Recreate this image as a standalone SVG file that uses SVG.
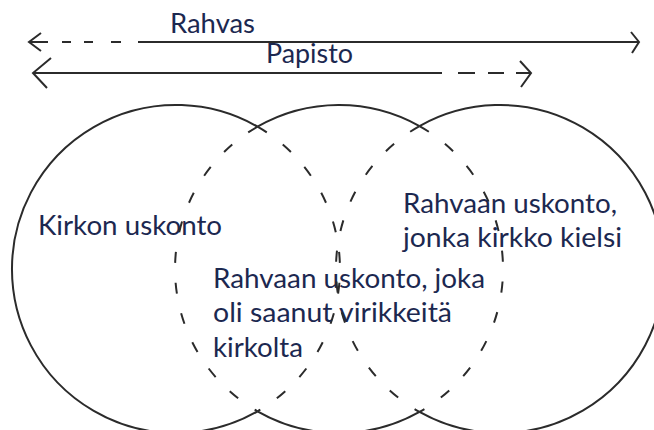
<svg xmlns="http://www.w3.org/2000/svg" width="654" height="430" viewBox="0 0 654 430">
<style>
.s{fill:none;stroke:#2b2b2b;stroke-width:2}
.d{fill:none;stroke:#2b2b2b;stroke-width:2;stroke-dasharray:11 20}
.t{font-family:Lato,"Open Sans",sans-serif;font-size:26px;fill:#1c2850}
</style>
<rect width="654" height="430" fill="#ffffff"/>
<g id="connectors">
<g id="rahvas-arrow">
<path class="s" d="M29 42H48M62 42H71M84 42H93M111 42H121M138 42H639"/>
<path class="s" d="M41 33L29 42L41 51"/>
<path class="s" d="M631 32L639 42L632 53"/>
</g>
<g id="papisto-arrow">
<path class="s" d="M33 73H442M458 73H475M488 73H504M516 73H531"/>
<path class="s" d="M51 58L33 73L47 88"/>
<path class="s" d="M520 61L531 73L521 87"/>
</g>
</g>
<g id="node-kirkko">
<path class="s" d="M257.5 126.7A164 164 0 1 0 257.5 411.3"/>
<path class="d" d="M257.5 126.7A164 164 0 0 1 257.5 411.3"/>
<text class="t" x="38" y="235" textLength="184" lengthAdjust="spacingAndGlyphs">Kirkon uskonto</text>
</g>
<g id="node-middle">
<path class="s" d="M257.5 126.7A164 164 0 0 1 419.5 126.1"/>
<path class="s" d="M257.5 411.3A164 164 0 0 0 419.5 411.9"/>
<path class="d" d="M257.5 126.7A164 164 0 0 0 257.5 411.3"/>
<path class="d" d="M419.5 126.1A164 164 0 0 1 419.5 411.9"/>
<text class="t" x="213" y="288" textLength="272" lengthAdjust="spacingAndGlyphs">Rahvaan uskonto, joka</text>
<text class="t" x="213" y="322" textLength="239" lengthAdjust="spacingAndGlyphs">oli saanut virikkeitä</text>
<text class="t" x="213" y="357" textLength="90" lengthAdjust="spacingAndGlyphs">kirkolta</text>
</g>
<g id="node-right">
<path class="s" d="M419.5 126.1A164 164 0 1 1 419.5 411.9"/>
<path class="d" d="M419.5 126.1A164 164 0 0 0 419.5 411.9"/>
<text class="t" x="403" y="213" textLength="214" lengthAdjust="spacingAndGlyphs">Rahvaan uskonto,</text>
<text class="t" x="403" y="247" textLength="219" lengthAdjust="spacingAndGlyphs">jonka kirkko kielsi</text>
</g>
<g id="labels">
<text class="t" x="170" y="33" textLength="85" lengthAdjust="spacingAndGlyphs">Rahvas</text>
<text class="t" x="266" y="63" textLength="87" lengthAdjust="spacingAndGlyphs">Papisto</text>
</g>
</svg>
